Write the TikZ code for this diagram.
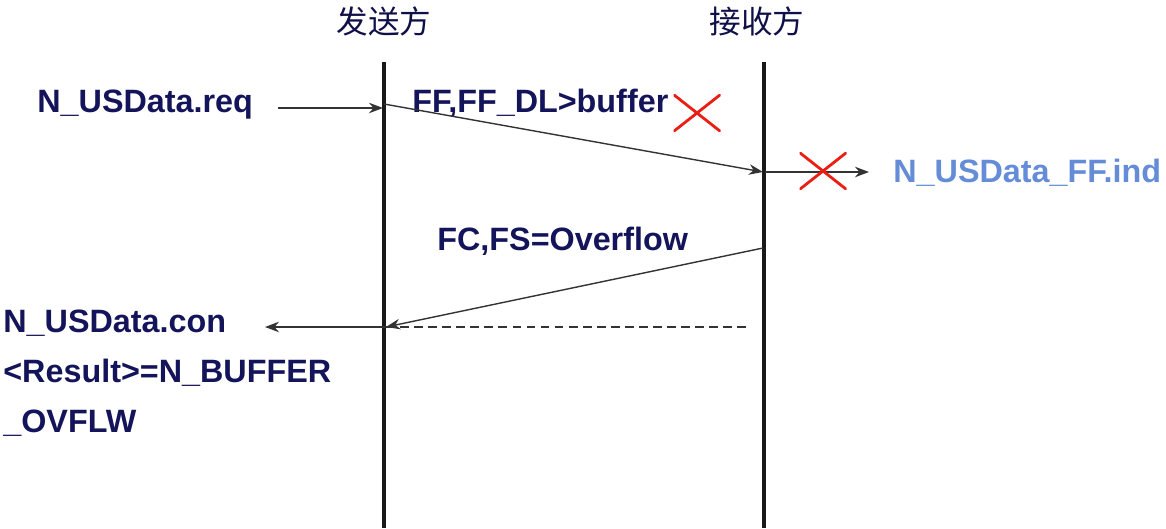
\documentclass[tikz,border=0pt]{standalone}
\usepackage{fontspec}
\setmainfont{Liberation Sans}
\newfontfamily\cjk{Noto Sans CJK SC}
\usetikzlibrary{arrows.meta,positioning}
\definecolor{textnavy}{RGB}{20,20,90}
\definecolor{indblue}{RGB}{100,140,215}
\definecolor{crossred}{RGB}{235,30,20}
\tikzset{
	lifeline/.style={draw=black!90,line width=2.3pt},
	msg/.style={draw=black!80,line width=0.8pt,-{Stealth[length=8pt,width=6pt]}},
	lbl/.style={font=\fontsize{18.4}{21}\selectfont\bfseries,text=textnavy,inner sep=0pt,anchor=base west},
	party/.style={font=\cjk\fontsize{18}{21}\selectfont,text=textnavy!80!black,inner sep=0pt},
	crossmark/.style={minimum width=47*0.02cm,minimum height=37*0.02cm,inner sep=0pt,
		path picture={\draw[crossred,line width=1.6pt]
			(path picture bounding box.south west) -- (path picture bounding box.north east)
			(path picture bounding box.north west) -- (path picture bounding box.south east);}}
}

\begin{document}
\begin{tikzpicture}[x=0.02cm,y=-0.02cm]
\useasboundingbox (0,0) rectangle (1166,528);

% lifelines
\node[party] (sender) at (384,21) {发送方};
\node[party] (receiver) at (757,21) {接收方};
\coordinate (sTop) at (384,62);
\coordinate (sBot) at (384,528);
\coordinate (rTop) at (764,62);
\coordinate (rBot) at (764,528);
\draw[lifeline] (sTop) -- (sBot);
\draw[lifeline] (rTop) -- (rBot);

% first frame
\node[lbl] (req) at (37,112) {N\_USData.req};
\coordinate (reqIn) at (278,108);
\coordinate (sFF) at (384,104);
\coordinate (reqEnd) at (383,108);
\draw[msg] (reqIn) -- (reqEnd);
\node[lbl] (ffLbl) at (412,112) {FF,FF\_DL>buffer};
\coordinate (rFF) at (763,172);
\draw[msg] (sFF) -- (rFF);
\node[crossmark] (lost) at (697,113) {};

% indication
\coordinate (rInd) at (765,172);
\coordinate (indOut) at (869,172);
\draw[msg] (rInd) -- (indOut);
\node[crossmark] (noInd) at (823,171) {};
\node[lbl,text=indblue] (ind) at (893,182) {N\_USData\_FF.ind};

% flow control
\node[lbl] (fcLbl) at (437,250) {FC,FS=Overflow};
\coordinate (rFC) at (763,248);
\coordinate (sFC) at (386,327);
\draw[msg] (rFC) -- (sFC);
\coordinate (dashEnd) at (748,327);
\draw[dash pattern=on 5pt off 3pt,line width=0.8pt,draw=black!80] (sFC) -- (dashEnd);

% confirmation
\coordinate (conOut) at (265,327);
\draw[msg] (sFC) -- (conOut);
\node[lbl] (con) at (3,332) {N\_USData.con};
\node[lbl,below=50*0.02cm of con.base west,anchor=base west] (result) {<Result>=N\_BUFFER};
\node[lbl,below=50*0.02cm of result.base west,anchor=base west] (ovflw) {\_OVFLW};

\end{tikzpicture}
\end{document}
